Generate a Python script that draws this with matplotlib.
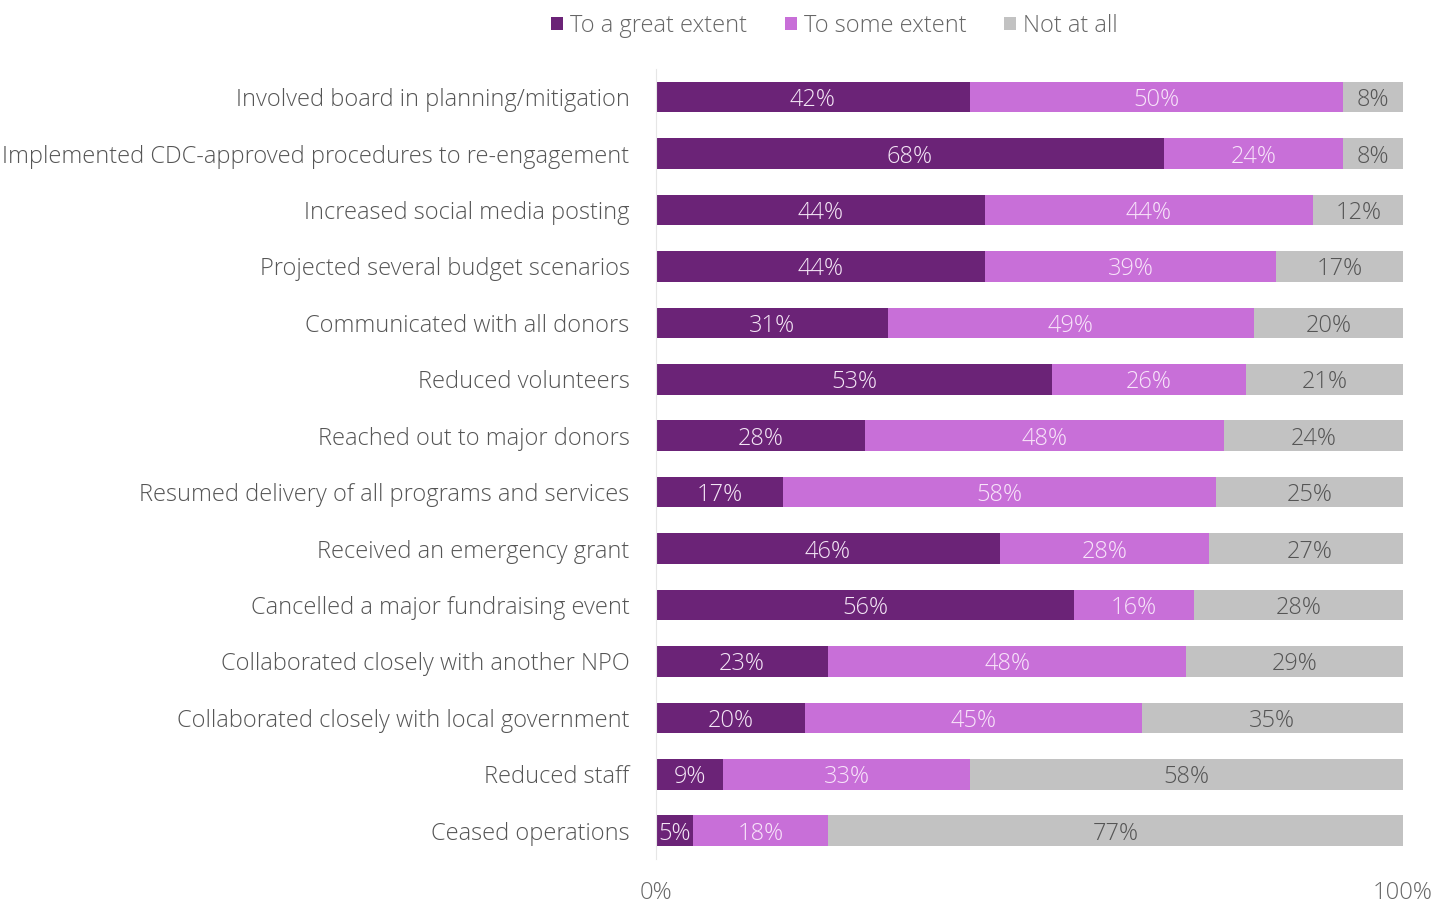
import matplotlib.pyplot as plt
import numpy as np

plt.rcParams['font.family'] = ['Open Sans', 'DejaVu Sans']
plt.rcParams['font.weight'] = 'light'

actions = ['Involved board in planning/mitigation',
           'Implemented CDC-approved procedures to re-engagement',
           'Increased social media posting',
           'Projected several budget scenarios',
           'Communicated with all donors',
           'Reduced volunteers',
           'Reached out to major donors',
           'Resumed delivery of all programs and services',
           'Received an emergency grant',
           'Cancelled a major fundraising event',
           'Collaborated closely with another NPO',
           'Collaborated closely with local government',
           'Reduced staff',
           'Ceased operations']
great = [42, 68, 44, 44, 31, 53, 28, 17, 46, 56, 23, 20, 9, 5]
some = [50, 24, 44, 39, 49, 26, 48, 58, 28, 16, 48, 45, 33, 18]
none_ = [8, 8, 12, 17, 20, 21, 24, 25, 27, 28, 29, 35, 58, 77]

series = [('To a great extent', great, '#6b2377', '#f4e6f6'),
          ('To some extent', some, '#c86fd8', '#f8e4fa'),
          ('Not at all', none_, '#c2c2c2', '#555555')]

fig = plt.figure(figsize=(14.49, 9.07), dpi=100)
ax = fig.add_axes([0.4527, 0.053, 0.5156, 0.871])

y = np.arange(len(actions))
left = np.zeros(len(actions))
for name, vals, color, txt in series:
    vals = np.array(vals, dtype=float)
    ax.barh(y, vals, left=left, height=0.54, color=color, label=name)
    for yi, l, v in zip(y, left, vals):
        ax.text(l + v / 2, yi, f'{int(v)}%', ha='center', va='center_baseline',
                fontsize=17, color=txt, fontweight='light')
    left += vals

ax.set_xlim(0, 100)
ax.set_ylim(len(actions) - 0.5, -0.5)
ax.set_yticks(y)
ax.set_yticklabels(actions, fontsize=17, color='#555555')
ax.set_xticks([0, 100])
ax.set_xticklabels(['0%', '100%'], fontsize=17, color='#666666')
ax.tick_params(axis='y', length=0, pad=19)
ax.tick_params(axis='x', length=0, pad=16)
for s in ['top', 'right', 'bottom']:
    ax.spines[s].set_visible(False)
ax.spines['left'].set_color('#e6e6e6')

leg = fig.legend(loc='upper center', bbox_to_anchor=(0.576, 1.008), ncol=3,
                 frameon=False, fontsize=17, handlelength=0.5, handleheight=0.5,
                 handletextpad=0.3, columnspacing=1.6)
for t in leg.get_texts():
    t.set_color('#666666')

fig.savefig('out.png', dpi=100)
